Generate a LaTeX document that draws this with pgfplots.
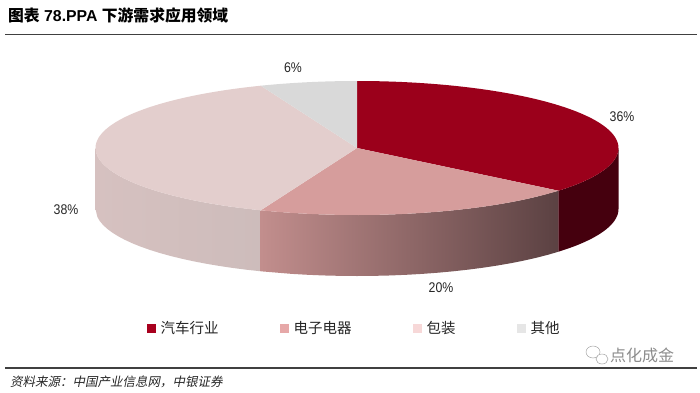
\documentclass[border=0pt]{standalone}
\usepackage{fontspec}
\setmainfont{Liberation Sans}
\newfontfamily\cjk{Noto Sans CJK SC}
\newfontfamily\cjkit[FakeSlant=0.2]{Noto Sans CJK SC}
\newfontfamily\narrow[FakeStretch=0.88]{Liberation Sans}
\usepackage{pgfplots}
\usepackage{pgfplotstable}
\pgfplotsset{compat=1.18}

\definecolor{cA}{HTML}{9B001B}
\definecolor{cAs}{HTML}{45000E}
\definecolor{cB}{HTML}{D69D9C}
\definecolor{cBl}{HTML}{C28E8D}
\definecolor{cBr}{HTML}{5B4142}
\definecolor{cC}{HTML}{E3CECD}
\definecolor{cCl}{HTML}{D6C1C0}
\definecolor{cCm}{HTML}{E3CDCC}
\definecolor{cCr}{HTML}{CDBCBB}
\definecolor{cD}{HTML}{D9D9D9}
\definecolor{lA}{HTML}{A8001E}
\definecolor{lB}{HTML}{E6A8A8}
\definecolor{lC}{HTML}{F7D8D8}
\definecolor{lD}{HTML}{E6E6E6}
\definecolor{txt}{HTML}{262626}

\pgfplotstableread{
name  value
auto  36
elec  20
pack  38
other 6
}\piedata

\begin{document}
\begin{tikzpicture}
\pgfplotstablegetelem{0}{value}\of\piedata \let\vA\pgfplotsretval
\pgfplotstablegetelem{1}{value}\of\piedata \let\vB\pgfplotsretval
\pgfplotstablegetelem{2}{value}\of\piedata \let\vC\pgfplotsretval
\pgfplotstablegetelem{3}{value}\of\piedata \let\vD\pgfplotsretval
% angles (clockwise from 12 o'clock)
\pgfmathsetmacro\aO{90}
\pgfmathsetmacro\aA{\aO-3.6*\vA}
\pgfmathsetmacro\aB{\aA-3.6*\vB}
\pgfmathsetmacro\aC{\aB-3.6*\vC}
\pgfmathsetmacro\aD{\aC-3.6*\vD}
% pie geometry (axis units = pt, y measured from bottom)
\def\cx{357}\def\cy{244}\def\rx{261.5}\def\ry{67}\def\dep{61}
\begin{axis}[
  at={(0,0)}, anchor=south west,
  width=700pt, height=392pt, scale only axis,
  xmin=0, xmax=700, ymin=0, ymax=392,
  hide axis, clip=false,
  declare function={
    sang(\s,\a,\b)=ifthenelse(\s<1.5,\a+(\b-\a)*\s,\b-(\b-\a)*(\s-2));
    sdy(\s)=ifthenelse(\s<1.5,0,\dep);
  },
  legend style={at={(axis cs:353,64)}, anchor=center, draw=none, fill=none,
    legend columns=4, font=\cjk\fontsize{14.5}{15}\selectfont\color{txt},
    nodes={inner sep=0pt, anchor=west},
    /tikz/every odd column/.append style={column sep=5pt},
    /tikz/every even column/.append style={column sep=61pt}},
  legend image code/.code={\fill[#1] (0pt,-4.5pt) rectangle (9pt,4.5pt);},
]
% ---- sides (front half) ----
\addplot[forget plot, draw=none, left color=cCl, middle color=cCm, right color=cCr,
  samples at={0,0.05,...,0.95,1,2,2.05,...,2.95,3}, variable=\s]
  ({\cx+\rx*cos(sang(\s,-180,\aB))},{\cy+\ry*sin(sang(\s,-180,\aB))-sdy(\s)}) -- cycle;
\addplot[forget plot, draw=none, left color=cBl, right color=cBr,
  samples at={0,0.05,...,0.95,1,2,2.05,...,2.95,3}, variable=\s]
  ({\cx+\rx*cos(sang(\s,\aB,\aA))},{\cy+\ry*sin(sang(\s,\aB,\aA))-sdy(\s)}) -- cycle;
\addplot[forget plot, draw=none, fill=cAs,
  samples at={0,0.05,...,0.95,1,2,2.05,...,2.95,3}, variable=\s]
  ({\cx+\rx*cos(sang(\s,\aA,0))},{\cy+\ry*sin(sang(\s,\aA,0))-sdy(\s)}) -- cycle;
% ---- top slices ----
\addplot[forget plot, draw=none, fill=cA, domain=\aA:\aO, samples=80, variable=\t]
  ({\cx+\rx*cos(\t)},{\cy+\ry*sin(\t)}) -- (axis cs:\cx,\cy) -- cycle;
\addplot[forget plot, draw=none, fill=cB, domain=\aB:\aA, samples=60, variable=\t]
  ({\cx+\rx*cos(\t)},{\cy+\ry*sin(\t)}) -- (axis cs:\cx,\cy) -- cycle;
\addplot[forget plot, draw=none, fill=cC, domain=\aC:\aB, samples=100, variable=\t]
  ({\cx+\rx*cos(\t)},{\cy+\ry*sin(\t)}) -- (axis cs:\cx,\cy) -- cycle;
\addplot[forget plot, draw=none, fill=cD, domain=\aD:\aC, samples=30, variable=\t]
  ({\cx+\rx*cos(\t)},{\cy+\ry*sin(\t)}) -- (axis cs:\cx,\cy) -- cycle;
% ---- legend ----
\addlegendimage{fill=lA, draw=none}
\addlegendentry{汽车行业}
\addlegendimage{fill=lB, draw=none}
\addlegendentry{电子电器}
\addlegendimage{fill=lC, draw=none}
\addlegendentry{包装}
\addlegendimage{fill=lD, draw=none}
\addlegendentry{其他}
% ---- data labels ----
\begin{scope}[every node/.style={font=\narrow\fontsize{14}{14}\selectfont, text=txt}]
\node at (axis cs:622,275) {\vA\%};
\node at (axis cs:441,104) {\vB\%};
\node at (axis cs:66,182) {\vC\%};
\node at (axis cs:293,324) {\vD\%};
\end{scope}
% ---- title, rules, source ----
\node[anchor=base west, inner sep=0pt, text=black] at (axis cs:8,371)
  {\fontsize{15.8}{16}\selectfont\bfseries{\cjk 图表} 78.PPA {\cjk 下游需求应用领域}};
\draw[line width=1.1pt, color=black!75] (axis cs:5,357.5) -- (axis cs:697,357.5);
\draw[line width=1.1pt, color=black!75] (axis cs:5,24) -- (axis cs:697,24);
\node[anchor=base west, inner sep=0pt, text=txt] at (axis cs:10,6)
  {\cjkit\fontsize{12.5}{13}\selectfont 资料来源：中国产业信息网，中银证券};
\node[anchor=base west, inner sep=0pt, text=black!45] at (axis cs:610,31)
  {\cjk\fontsize{16}{16}\selectfont 点化成金};
\draw[black!35, line width=0.5pt] (axis cs:593,40) ellipse[x radius=7pt, y radius=6pt];
\draw[black!35, line width=0.5pt, fill=white] (axis cs:602,33) ellipse[x radius=6pt, y radius=5pt];
\end{axis}
\pgfresetboundingbox
\path (0,0) rectangle (700pt,392pt);
\end{tikzpicture}
\end{document}
